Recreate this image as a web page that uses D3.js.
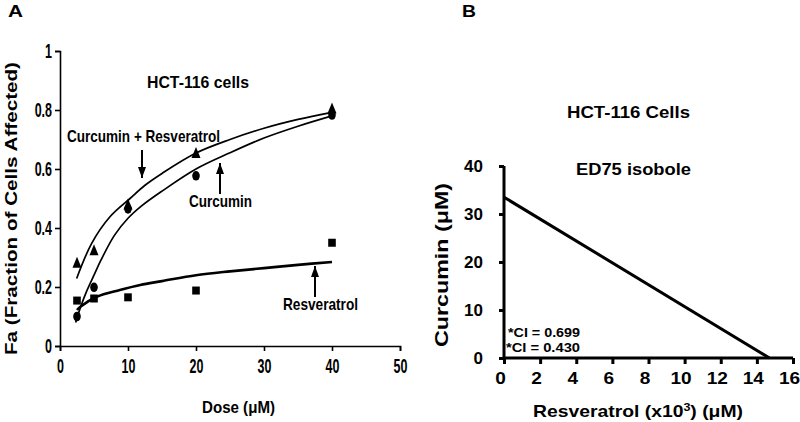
<!DOCTYPE html>
<html><head><meta charset="utf-8">
<script src="https://cdn.jsdelivr.net/npm/d3@7"></script>
<style>
body{margin:0;background:#fff;}
svg{display:block;}
</style></head>
<body>
<svg id="c" width="800" height="422"></svg>
<script>
// ---------- Panel A data ----------
const doses = [2.5, 5, 10, 20, 40];
const comboPts = [0.282, 0.325, 0.48, 0.654, 0.805];
const curcuminPts = [0.10, 0.199, 0.465, 0.577, 0.783];
const resveratrolPts = [0.154, 0.161, 0.165, 0.188, 0.35];
const comboFitX = [2.45, 4.66, 7.35, 10.3, 12.5, 15, 20, 25, 30, 35, 40];
const comboFit = [0.229, 0.348, 0.438, 0.50, 0.545, 0.585, 0.654, 0.70, 0.738, 0.768, 0.792];
const curcuminFitX = [2.3, 3, 4, 5, 6, 8, 10, 12, 15, 20, 25, 30, 35, 40];
const curcuminFit = [0.08, 0.13, 0.19, 0.24, 0.29, 0.375, 0.433, 0.475, 0.525, 0.60, 0.655, 0.705, 0.745, 0.78];
const resveratrolFitX = [2.5, 3, 5.4, 8.8, 11.8, 15, 20, 25, 30, 35, 40];
const resveratrolFit = [0.122, 0.133, 0.167, 0.19, 0.207, 0.22, 0.24, 0.253, 0.264, 0.275, 0.285];
const aXTicks = [0, 10, 20, 30, 40, 50];
const aYTicks = [0, 0.2, 0.4, 0.6, 0.8, 1];
const aYTickLabels = ["0", "0.2", "0.4", "0.6", "0.8", "1"];

// ---------- Panel B data ----------
const isoboleX = [0, 14.7];
const isoboleY = [33.5, 0];
const bXTicks = [0, 2, 4, 6, 8, 10, 12, 14, 16];
const bYTicks = [0, 10, 20, 30, 40];
const ciLabels = ["*CI = 0.699", "*CI = 0.430"];

const svg = d3.select("#c");
const sans = "'Liberation Sans',Arial,sans-serif";

function fitW(sel, w) {
  sel.attr("textLength", w).attr("lengthAdjust", "spacingAndGlyphs");
  return sel;
}
function scaleW(sel, k) {
  sel.each(function () {
    const L = this.getComputedTextLength();
    d3.select(this).attr("textLength", L * k).attr("lengthAdjust", "spacingAndGlyphs");
  });
}
function txt(g, x, y, s, size, w, anchor) {
  const t = g.append("text").attr("x", x).attr("y", y).text(s)
    .attr("text-anchor", anchor || "middle").attr("fill", "#000")
    .style("font-family", sans).style("font-size", size + "px").style("font-weight", "bold");
  if (w) fitW(t, w);
  return t;
}

// ===== Panel A =====
const xA = d3.scaleLinear().domain([0, 50]).range([60, 400]);
const yA = d3.scaleLinear().domain([0, 1]).range([346, 51]);

const gA = svg.append("g");
const axA = gA.append("g").attr("transform", "translate(0,346)")
  .call(d3.axisBottom(xA).tickValues(aXTicks).tickSize(5).tickPadding(8).tickFormat(d3.format("d")));
const ayA = gA.append("g").attr("transform", "translate(60,0)")
  .call(d3.axisLeft(yA).tickValues(aYTicks).tickSize(5).tickPadding(3).tickFormat((d, i) => aYTickLabels[i]));
[axA, ayA].forEach(a => {
  a.select(".domain").attr("stroke", "#000").attr("stroke-width", 1.6);
  a.selectAll(".tick line").attr("stroke", "#000").attr("stroke-width", 1.6);
  a.selectAll(".tick text").attr("fill", "#000").style("font-family", sans)
    .style("font-size", "19.5px").style("font-weight", "bold");
  scaleW(a.selectAll(".tick text"), 0.64);
});

const lineA = d3.line().curve(d3.curveCatmullRom.alpha(0.5));
function drawFit(xs, ys, w) {
  gA.append("path").attr("d", lineA(xs.map((x, i) => [xA(x), yA(ys[i])])))
    .attr("fill", "none").attr("stroke", "#000").attr("stroke-width", w);
}
drawFit(comboFitX, comboFit, 1.7);
drawFit(curcuminFitX, curcuminFit, 1.7);
drawFit(resveratrolFitX, resveratrolFit, 2.6);

gA.selectAll(".tri").data(doses).join("path")
  .attr("d", (d, i) => {
    const cx = xA(d), cy = yA(comboPts[i]);
    return `M${cx},${cy - 6}L${cx + 4.5},${cy + 5}L${cx - 4.5},${cy + 5}Z`;
  }).attr("fill", "#000");
gA.selectAll(".cir").data(doses).join("ellipse")
  .attr("cx", d => xA(d)).attr("cy", (d, i) => yA(curcuminPts[i]))
  .attr("rx", 3.8).attr("ry", 4.8).attr("fill", "#000");
gA.selectAll(".sq").data(doses).join("rect")
  .attr("x", d => xA(d) - 3.8).attr("y", (d, i) => yA(resveratrolPts[i]) - 4)
  .attr("width", 7.6).attr("height", 8).attr("fill", "#000");

function arrow(g, x, y1, y2) {
  g.append("line").attr("x1", x).attr("x2", x).attr("y1", y1).attr("y2", y2)
    .attr("stroke", "#000").attr("stroke-width", 2);
  const dir = y2 > y1 ? 1 : -1;
  g.append("path").attr("d", `M${x},${y2}L${x - 4},${y2 - dir * 11}L${x + 4},${y2 - dir * 11}Z`).attr("fill", "#000");
}
txt(gA, 198, 88, "HCT-116 cells", 17, 102);
txt(gA, 143.5, 142, "Curcumin + Resveratrol", 17, 153);
arrow(gA, 142, 150, 178);
txt(gA, 220.5, 207, "Curcumin", 17, 63);
arrow(gA, 220, 194, 163);
txt(gA, 320.5, 310, "Resveratrol", 17, 75);
arrow(gA, 315, 297, 266);
txt(gA, 238.5, 413, "Dose (μM)", 17, 73);
txt(gA, 0, 0, "Fa (Fraction of Cells Affected)", 17, 293)
  .attr("transform", "translate(17,208.5) rotate(-90)");
txt(gA, 8, 17, "A", 17, 15, "start");

// ===== Panel B =====
const xB = d3.scaleLinear().domain([0, 16]).range([504, 793]);
const yB = d3.scaleLinear().domain([0, 40]).range([358, 166]);
const gB = svg.append("g");
const axB = gB.append("g").attr("transform", "translate(0,358)")
  .call(d3.axisBottom(xB).tickValues(bXTicks).tickSize(6).tickPadding(8).tickFormat(d3.format("d")));
const ayB = gB.append("g").attr("transform", "translate(504,0)")
  .call(d3.axisLeft(yB).tickValues(bYTicks).tickSize(5).tickPadding(16).tickFormat(d3.format("d")));
[axB, ayB].forEach(a => {
  a.select(".domain").attr("stroke", "#000").attr("stroke-width", 3);
  a.selectAll(".tick line").attr("stroke", "#000").attr("stroke-width", 3);
  a.selectAll(".tick text").attr("fill", "#000").style("font-family", sans)
    .style("font-size", "17px").style("font-weight", "bold");
});
axB.selectAll(".tick text").attr("x", -4);
scaleW(axB.selectAll(".tick text"), 1.12);
axB.select(".domain").attr("d", `M${xB(0)},0H${xB(16)}`);
ayB.select(".domain").attr("d", `M0,${yB(0)}V${yB(40)}`);

gB.append("path")
  .attr("d", d3.line()(isoboleX.map((x, i) => [xB(x), yB(isoboleY[i])])))
  .attr("fill", "none").attr("stroke", "#000").attr("stroke-width", 3);

txt(gB, 628.5, 118, "HCT-116 Cells", 17, 123);
txt(gB, 633.5, 175, "ED75 isobole", 17, 115);
txt(gB, 508, 337, ciLabels[0], 13, 72, "start");
txt(gB, 506, 352, ciLabels[1], 13, 74, "start");
const xl = txt(gB, 638, 417, "Resveratrol (x10", 17, null);
xl.append("tspan").text("3").attr("dy", -6).style("font-size", "11px");
xl.append("tspan").text(") (μM)").attr("dy", 6);
fitW(xl, 210);
txt(gB, 0, 0, "Curcumin (μM)", 18, 164).attr("transform", "translate(448,265) rotate(-90)");
txt(gB, 462, 17, "B", 17, 14, "start");
</script>
</body></html>
